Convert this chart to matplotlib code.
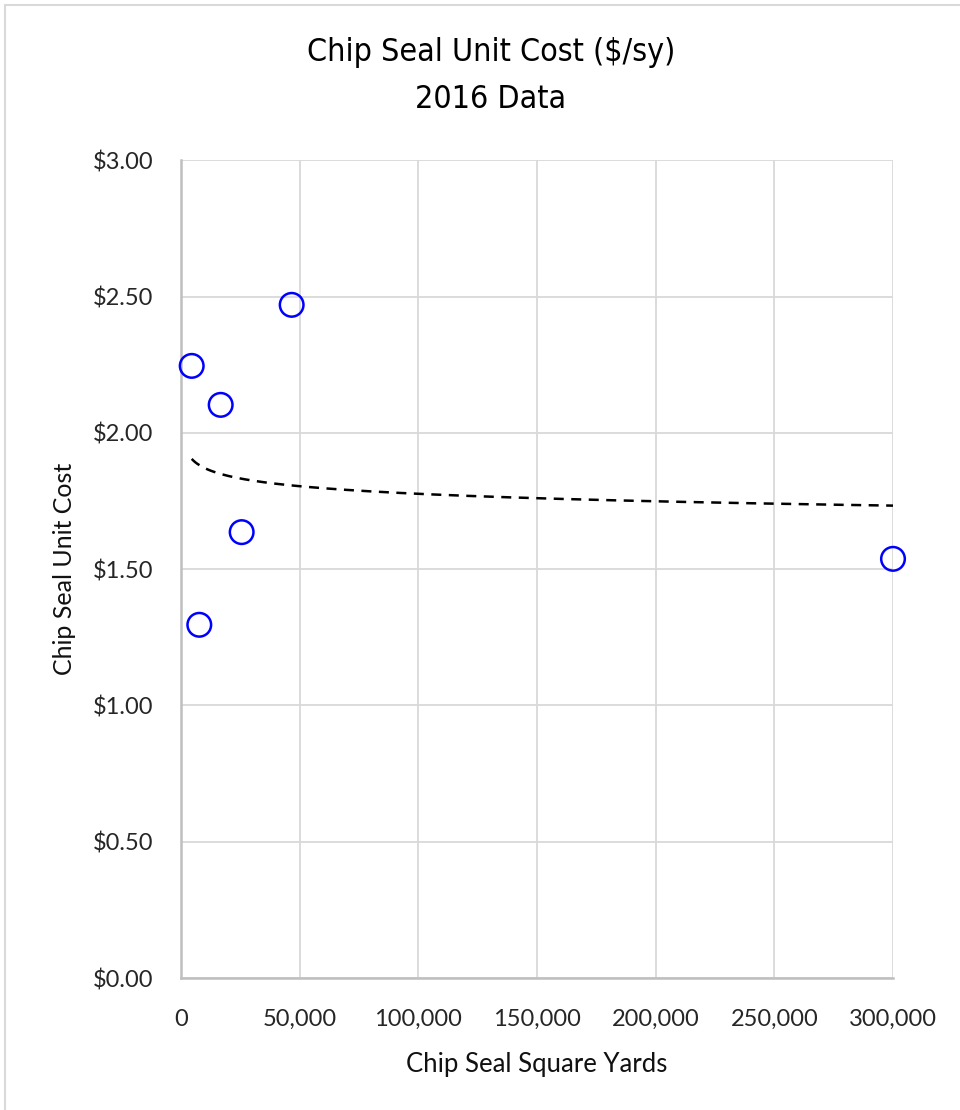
import matplotlib
matplotlib.use('Agg')
import matplotlib.pyplot as plt
from matplotlib.patches import Rectangle
from matplotlib.ticker import FuncFormatter
import numpy as np

# Data (square yards, $/sy)
square_yards = np.array([4510, 16720, 46630, 25560, 7710, 300000])
unit_cost = np.array([2.246, 2.103, 2.470, 1.636, 1.296, 1.538])

x_ticks = [0, 50000, 100000, 150000, 200000, 250000, 300000]
y_ticks = [0.0, 0.5, 1.0, 1.5, 2.0, 2.5, 3.0]

narrow = ['Liberation Sans Narrow', 'DejaVu Sans']
regular = ['Lato', 'DejaVu Sans']

fig = plt.figure(figsize=(9.6, 11.1), dpi=100)
fig.patches.append(Rectangle((5 / 960, -0.1), 1.2, 1 - 5 / 1110 + 0.1,
                             transform=fig.transFigure, fill=False,
                             edgecolor='#d9d9d9', linewidth=1.5))

ax = fig.add_axes([181 / 960, 1 - 978 / 1110, 712 / 960, (978 - 160.4) / 1110])

ax.scatter(square_yards, unit_cost, s=17 ** 2, facecolors='none',
           edgecolors='#0000ff', linewidths=1.8, zorder=3, clip_on=False)

# power trendline (like Excel) fitted to the points
b, a = np.polyfit(np.log(square_yards), np.log(unit_cost), 1)
xs = np.linspace(square_yards.min(), square_yards.max(), 400)
ax.plot(xs, np.exp(a) * xs ** b, color='black', linestyle=(0, (4, 3)),
        linewidth=1.8, zorder=2)

ax.set_xlim(0, 300000)
ax.set_ylim(0, 3)
ax.set_xticks(x_ticks)
ax.set_yticks(y_ticks)
ax.xaxis.set_major_formatter(FuncFormatter(lambda v, p: f'{int(v):,}'))
ax.yaxis.set_major_formatter(FuncFormatter(lambda v, p: f'${v:.2f}'))
ax.grid(True, color='#d9d9d9', linewidth=1.3)
ax.set_axisbelow(True)
for side in ['top', 'right']:
    ax.spines[side].set_visible(False)
for side in ['left', 'bottom']:
    ax.spines[side].set_color('#bfbfbf')
    ax.spines[side].set_linewidth(1.8)
ax.tick_params(length=0)
ax.tick_params(axis='y', pad=20)
ax.tick_params(axis='x', pad=22)
for lab in ax.get_yticklabels() + ax.get_xticklabels():
    lab.set_fontfamily(regular)
    lab.set_fontsize(17)
    lab.set_color('#262626')

ax.set_xlabel('Chip Seal Square Yards', family=regular, fontsize=18.5,
              color='#111111', labelpad=16)
ax.set_ylabel('Chip Seal Unit Cost', family=regular, fontsize=18,
              color='#111111', labelpad=12)

fig.text(491 / 960, 1 - 52 / 1110, 'Chip Seal Unit Cost ($/sy)', family=narrow,
         stretch='condensed', fontsize=23, ha='center', va='center',
         color='#000000')
fig.text(491 / 960, 1 - 100 / 1110, '2016 Data', family=narrow,
         stretch='condensed', fontsize=23, ha='center', va='center',
         color='#000000')

fig.savefig('out.png', dpi=100)
